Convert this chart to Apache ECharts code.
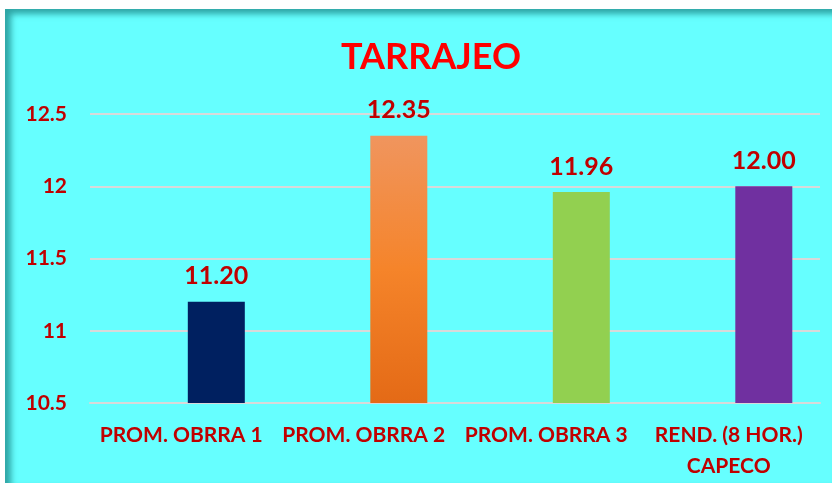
<!DOCTYPE html>
<html>
<head>
<meta charset="utf-8">
<script src="https://cdn.jsdelivr.net/npm/echarts@6/dist/echarts.min.js"></script>
<style>
  html, body { margin: 0; padding: 0; background: #fff; }
  #frame {
    position: absolute; left: 5px; top: 9px; width: 827px; height: 474px;
    background: #66FFFF;
    box-shadow: inset 6px 5px 6px rgba(0, 90, 90, 0.55);
  }
  #chart { width: 827px; height: 474px; }
</style>
</head>
<body>
<div id="frame"><div id="chart"></div></div>
<script>
// chart data
const categories = ['PROM. OBRRA 1', 'PROM. OBRRA 2', 'PROM. OBRRA 3', 'REND. (8 HOR.)\nCAPECO'];
const values = [11.20, 12.35, 11.96, 12.00];
const barColors = ['#002060', 'orange', '#92D050', '#7030A0'];
const yTicks = [10.5, 11, 11.5, 12, 12.5];

const orangeFill = new echarts.graphic.LinearGradient(0, 0, 0, 1, [
  { offset: 0, color: '#F0955E' },
  { offset: 0.5, color: '#F5842A' },
  { offset: 1, color: '#E46A16' }
]);

const labelRed = '#C00000';
const font = 'Lato, "Open Sans", sans-serif';

let chart = echarts.init(document.getElementById('chart'));
chart.setOption({
  backgroundColor: 'transparent',
  animation: false,
  title: {
    text: 'TARRAJEO',
    left: 331,
    top: 25,
    textStyle: { color: '#FF0000', fontSize: 36, fontWeight: 'bold', fontFamily: font }
  },
  grid: { left: 85, right: 12, top: 105, bottom: 80 },
  xAxis: {
    type: 'category',
    data: categories,
    axisLine: { lineStyle: { color: '#D9D9D9', width: 2 } },
    axisTick: { show: false },
    axisLabel: {
      color: labelRed, fontSize: 21, fontWeight: 'bold', fontFamily: font,
      margin: 17, lineHeight: 31, interval: 0
    }
  },
  yAxis: {
    type: 'value',
    min: yTicks[0],
    max: yTicks[yTicks.length - 1],
    interval: 0.5,
    axisLine: { show: false },
    axisTick: { show: false },
    splitLine: { lineStyle: { color: '#D9D9D9', width: 2 } },
    axisLabel: { color: labelRed, fontSize: 21, fontWeight: 'bold', fontFamily: font, margin: 23 }
  },
  series: [{
    // empty slot, shifts the real bars right like the original
    type: 'bar',
    barWidth: 57,
    data: categories.map(() => null),
    silent: true
  }, {
    type: 'bar',
    barWidth: 57,
    barGap: '23%',
    data: values.map(function (v, i) {
      return {
        value: v,
        itemStyle: { color: barColors[i] === 'orange' ? orangeFill : barColors[i] }
      };
    }),
    label: {
      show: true,
      position: 'top',
      distance: 13,
      color: labelRed,
      fontSize: 25,
      fontWeight: 'bold',
      fontFamily: font,
      formatter: function (p) { return p.value.toFixed(2); }
    }
  }]
});
</script>
</body>
</html>
